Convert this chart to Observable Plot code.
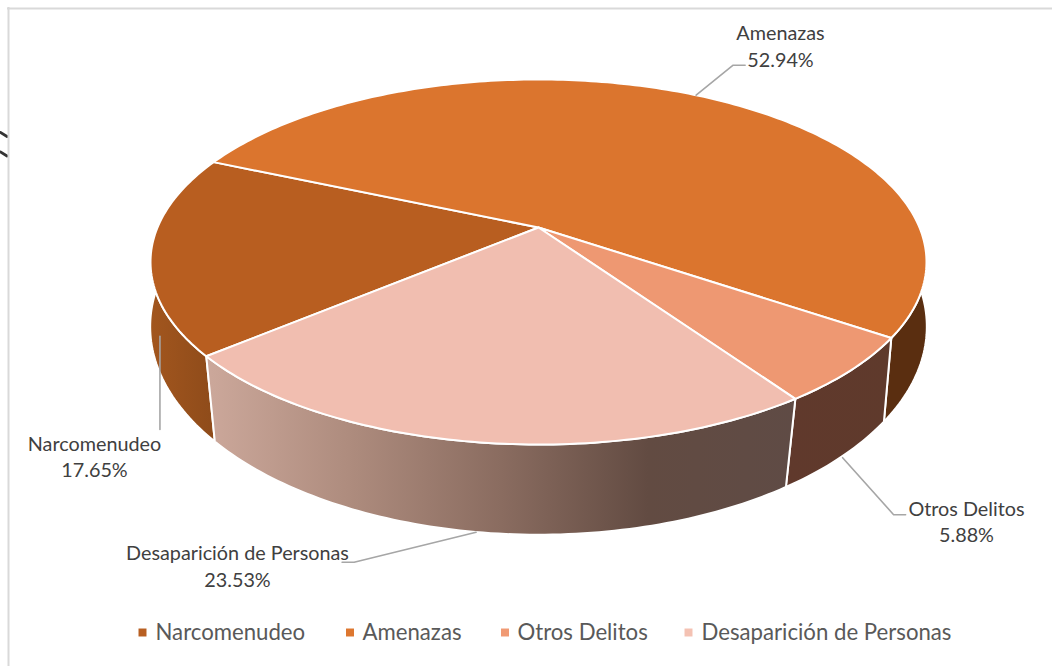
<!DOCTYPE html>
<html lang="es">
<head>
<meta charset="utf-8">
<script src="https://cdn.jsdelivr.net/npm/d3@7"></script>
<script src="https://cdn.jsdelivr.net/npm/@observablehq/plot@0.6"></script>
<style>
html,body{margin:0;padding:0;background:#fff}
svg{display:block}
</style>
</head>
<body>
<div id="chart"></div>
<script>
// ---- data ----
const categories = ["Narcomenudeo", "Amenazas", "Otros Delitos", "Desaparición de Personas"];
const shares = [17.65, 52.94, 5.88, 23.53];
const shareLabels = ["17.65%", "52.94%", "5.88%", "23.53%"];

// ---- styles ----
const topColors = ["#b85e20", "#db752e", "#ee9872", "#f1beb0"];
const legendColors = ["#b85f22", "#dd7730", "#f09a74", "#f4c2b3"];
const sideFills = ["url(#narcoSide)", "#5a2e10", "url(#otrosSide)", "url(#desapSide)"];

// ---- layout ----
const W = 1052, H = 666;
const firstSliceAngle = 230 * Math.PI / 180;
const cx = 538;
const topFace = {y0: 227, a: 176, b: 381, k: 0.189};
const bottomFace = {y0: 297, a: 204, b: 384.5, k: 0.14};
const leaderFace = [topFace, topFace, bottomFace, bottomFace];
// leader offsets from each slice's rim point at mid-angle
const leaderPaths = [
  [[9, 83], [9, 176]],
  [[0, 0], [37, -30], [49, -30]],
  [[1, 1], [52, 58], [64, 58]],
  [[-3, 0], [-125, 30], [-137, 30]]
];
const labelX = [94, 780, 966, 237];
const labelY = [456.5, 46, 521.5, 566];
const legendSwatchX = [142, 349.5, 504.5, 688];
const legendTextX = [155, 362, 517, 701];
const legendY = 632;
// cut-off strokes of something outside the crop, at the left border
const croppedStrokes = [
  [[0, 132], [6.5, 136]],
  [[0, 151.5], [6.5, 155.5]]
];

// ---- geometry: a perspective-projected circle ----
function rim(angle, f) {
  const u = Math.sin(angle), v = -Math.cos(angle), w = 1 - f.k * v;
  return [cx + f.b * u / w, f.y0 + f.a * v / w];
}
function arc(a0, a1, f) {
  const n = Math.max(2, Math.ceil(Math.abs(a1 - a0) / (Math.PI / 180)));
  return d3.range(n + 1).map(i => rim(a0 + (a1 - a0) * i / n, f));
}
const slices = d3.pie().sort(null)
  .startAngle(firstSliceAngle).endAngle(firstSliceAngle + 2 * Math.PI)(shares);

const topShape = s => [[cx, topFace.y0], ...arc(s.startAngle, s.endAngle, topFace), [cx, topFace.y0]];
const sideShape = s => {
  const t = arc(s.startAngle, s.endAngle, topFace);
  const b = arc(s.endAngle, s.startAngle, bottomFace);
  return [...t, ...b, t[0]];
};
const poly = (points, fill, sw = 2) => Plot.line(points, {
  x: d => d[0], y: d => d[1], fill, stroke: "white", strokeWidth: sw, strokeLinejoin: "round"
});

// gradients
function gradient(id, stops) {
  const g = d3.create("svg:linearGradient").attr("id", id);
  for (const [o, c] of stops) g.append("stop").attr("offset", o).attr("stop-color", c);
  return g.node();
}
const defsMark = () => {
  const d = d3.create("svg:defs");
  d.append(() => gradient("desapSide", [[0, "#cca89b"], [0.25, "#ad8b7d"], [0.5, "#8a6c60"], [0.75, "#624b42"], [1, "#5f4b45"]]));
  d.append(() => gradient("narcoSide", [[0, "#a2561e"], [1, "#8e4b1a"]]));
  d.append(() => gradient("otrosSide", [[0, "#60392c"], [1, "#5f3a2c"]]));
  return d.node();
};

// leaders
const leaders = slices.map((s, i) => {
  const [ax, ay] = rim((s.startAngle + s.endAngle) / 2, leaderFace[i]);
  return leaderPaths[i].map(([dx, dy]) => [ax + dx, ay + dy]);
});

const labelFont = "Lato, 'Open Sans', sans-serif";
const labels = categories.map((c, i) => ({text: `${c}\n${shareLabels[i]}`, x: labelX[i], y: labelY[i] - 1.5}));
const legendRows = categories.map((c, i) => ({c, sx: legendSwatchX[i], tx: legendTextX[i], color: legendColors[i]}));

// back-to-front: sides, then top faces
const sideOrder = [1, 0, 2, 3];

const chart = Plot.plot({
  width: W, height: H, margin: 0,
  x: {domain: [0, W], range: [0, W], axis: null},
  y: {domain: [0, H], range: [0, H], axis: null},
  style: {background: "white"},
  marks: [
    defsMark,
    ...croppedStrokes.map(s => Plot.line(s, {x: d => d[0], y: d => d[1], stroke: "#333333", strokeWidth: 2.8})),
    Plot.ruleX([8], {y1: 7, y2: H, stroke: "#d9d9d9", strokeWidth: 2}),
    Plot.ruleY([8], {x1: 7, x2: W, stroke: "#d9d9d9", strokeWidth: 2}),
    ...sideOrder.map(i => poly(sideShape(slices[i]), sideFills[i])),
    ...slices.map((s, i) => poly(topShape(s), topColors[i])),
    ...leaders.map(l => Plot.line(l, {x: d => d[0], y: d => d[1], stroke: "#a6a6a6", strokeWidth: 1.6})),
    Plot.text(labels, {x: "x", y: "y", text: "text", fontFamily: labelFont, fontSize: 19.8, fill: "#404040", lineHeight: 1.34, lineAnchor: "middle", textAnchor: "middle"}),
    Plot.dot(legendRows, {x: "sx", y: () => legendY, symbol: "square", r: 4.5, fill: "color", stroke: "none"}),
    Plot.text(legendRows, {x: "tx", y: () => legendY, text: "c", textAnchor: "start", lineAnchor: "middle", fontFamily: labelFont, fontSize: 22.2, fill: "#595959"})
  ]
});
document.getElementById("chart").append(chart);
</script>
</body>
</html>
